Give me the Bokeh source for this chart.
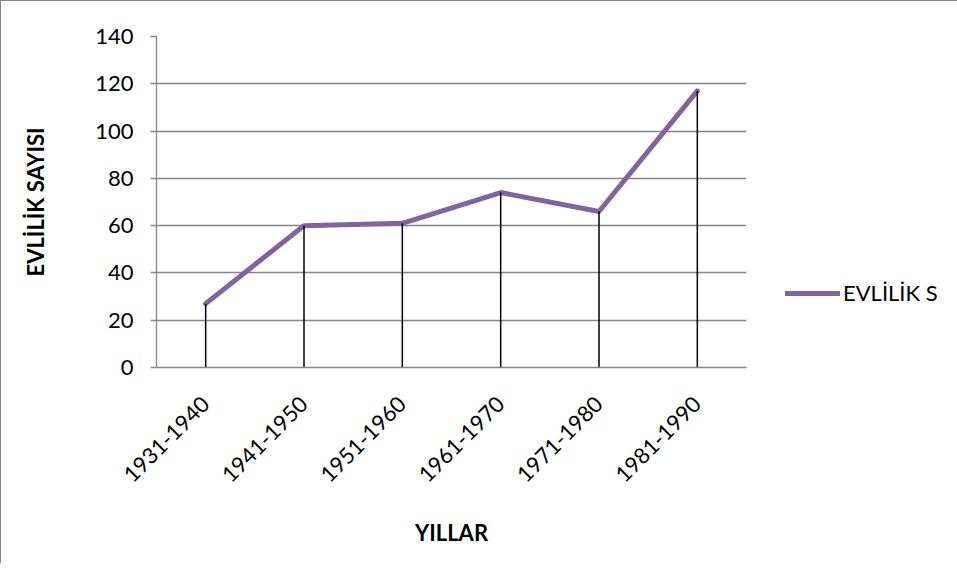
import math
from bokeh.plotting import figure
from bokeh.models import Range1d, FactorRange, Legend, LegendItem, SingleIntervalTicker, ColumnDataSource
from bokeh.embed import file_html
from bokeh.resources import INLINE

categories = ["1931-1940", "1941-1950", "1951-1960", "1961-1970", "1971-1980", "1981-1990"]
values = [27, 60, 61, 74, 66, 117]
series_name = "EVLİLİK S"
y_title = "EVLİLİK SAYISI"
x_title = "YILLAR"

FONT = "Lato"
GRID = "#868686"
PURPLE = "#8064A2"

src = ColumnDataSource(dict(x=categories, y=values, y0=[0] * len(values)))

p = figure(width=941, height=562, output_backend="svg", toolbar_location=None,
           x_range=FactorRange(*categories, range_padding=0), y_range=Range1d(0, 140),
           min_border_left=155, min_border_right=196, min_border_top=35, min_border_bottom=196)
p.frame_width = 590
p.frame_height = 331
p.outline_line_color = None

line = p.line("x", "y", source=src, line_color=PURPLE, line_width=5, line_cap="round", line_join="round")
p.segment(x0="x", y0="y0", x1="x", y1="y", source=src, line_color="black", line_width=1.5)

p.yaxis.ticker = SingleIntervalTicker(interval=20)
p.ygrid.grid_line_color = GRID
p.ygrid.grid_line_width = 1.3
p.xgrid.grid_line_color = None

for ax in (p.xaxis[0], p.yaxis[0]):
    ax.axis_line_color = GRID
    ax.axis_line_width = 1.3
    ax.major_label_text_font = FONT
    ax.major_label_text_font_size = "22px"
    ax.major_label_text_color = "black"
    ax.axis_label_text_font = FONT
    ax.axis_label_text_font_size = "22px"
    ax.axis_label_text_font_style = "bold"
    ax.axis_label_text_color = "black"
    ax.minor_tick_line_color = None

p.yaxis.major_tick_line_color = GRID
p.yaxis.major_tick_line_width = 1.3
p.yaxis.major_tick_out = 6
p.yaxis.major_tick_in = 0
p.yaxis.major_label_standoff = 17
p.yaxis.axis_label = y_title
p.yaxis.axis_label_standoff = 43

p.xaxis.major_tick_line_color = None
p.xaxis.major_label_orientation = math.pi / 4
p.xaxis.major_label_standoff = 27
p.xaxis.axis_label = x_title
p.xaxis.axis_label_standoff = 27

legend = Legend(items=[LegendItem(label=series_name, renderers=[line])],
                location=(39, 61), glyph_width=55, glyph_height=20,
                label_text_font=FONT, label_text_font_size="22px", label_text_color="black",
                border_line_color=None, background_fill_alpha=0, padding=0, margin=0,
                label_standoff=3)
p.add_layout(legend, "right")

p.styles = {"border-top": "1.5px solid #888888", "border-left": "1.5px solid #888888"}

open("out.html", "w").write(file_html(p, INLINE))
